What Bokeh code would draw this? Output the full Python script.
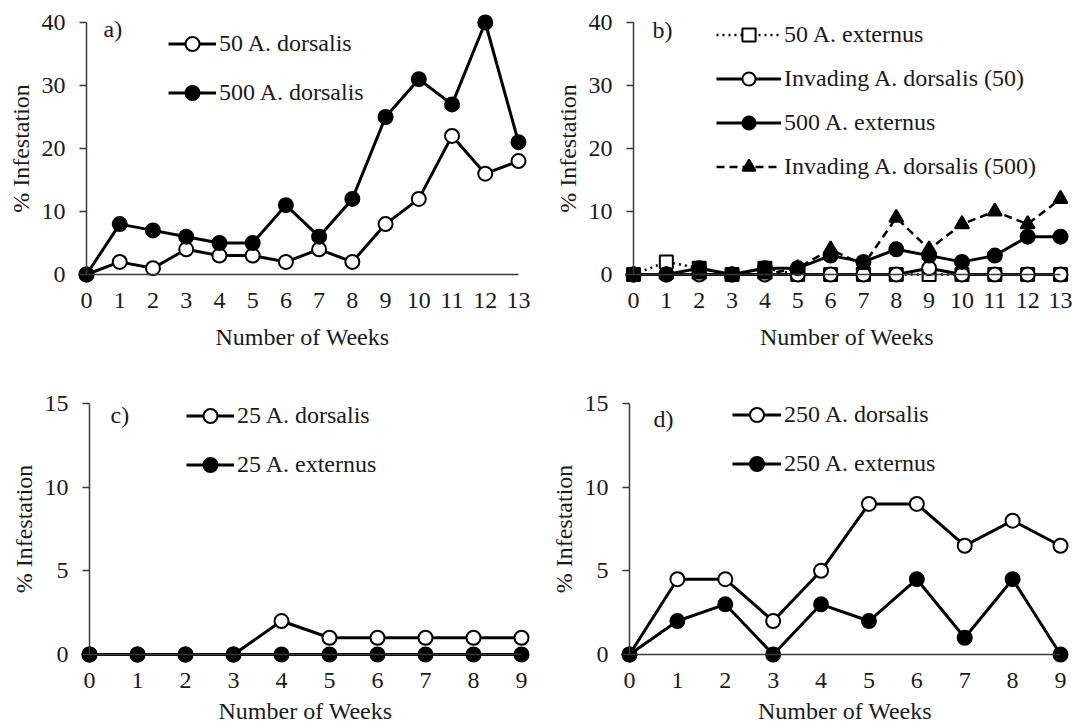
from bokeh.plotting import figure
from bokeh.layouts import column, row
from bokeh.models import (Range1d, LinearAxis, FixedTicker, Legend, LegendItem, Label)
from bokeh.embed import file_html
from bokeh.resources import INLINE

FONT = "Liberation Serif"
FS = "24px"

# ---------------- data ----------------
weeks_13 = list(range(14))
weeks_9 = list(range(10))

a_50_dorsalis = [0, 2, 1, 4, 3, 3, 2, 4, 2, 8, 12, 22, 16, 18]
a_500_dorsalis = [0, 8, 7, 6, 5, 5, 11, 6, 12, 25, 31, 27, 40, 21]

b_50_externus = [0, 2, 1, 0, 1, 0, 0, 0, 0, 0, 0, 0, 0, 0]
b_inv_dorsalis_50 = [0, 0, 0, 0, 0, 0, 0, 0, 0, 1, 0, 0, 0, 0]
b_500_externus = [0, 0, 1, 0, 1, 1, 3, 2, 4, 3, 2, 3, 6, 6]
b_inv_dorsalis_500 = [0, 0, 0, 0, 0, 1, 4, 1.5, 9, 4, 8, 10, 8, 12]

c_25_dorsalis = [0, 0, 0, 0, 2, 1, 1, 1, 1, 1]
c_25_externus = [0, 0, 0, 0, 0, 0, 0, 0, 0, 0]

d_250_dorsalis = [0, 4.5, 4.5, 2, 5, 9, 9, 6.5, 8, 6.5]
d_250_externus = [0, 2, 3, 0, 3, 2, 4.5, 1, 4.5, 0]

ticks_top_y = [0, 10, 20, 30, 40]
ticks_bot_y = [0, 5, 10, 15]

AXIS_COLOR = "#3a3a3a"
TEXT_COLOR = "#1a1a1a"


def rng(p_v0, p_v1, v0, v1, f_lo, f_hi):
    s = (p_v1 - p_v0) / (v1 - v0)
    return Range1d(v0 + (f_lo - p_v0) / s, v0 + (f_hi - p_v0) / s)


def make_panel(fig_box, xmap, ymap, xmax, ymax, yticks, xlabel_standoff):
    fx0, fy0, fx1, fy1 = fig_box
    p = figure(width=fx1 - fx0, height=fy1 - fy0,
               x_range=rng(xmap[0], xmap[1], 0, xmax, fx0, fx1),
               y_range=rng(ymap[0], ymap[1], 0, ymax, fy1, fy0),
               x_axis_location=None, y_axis_location=None,
               toolbar_location=None, output_backend="svg",
               min_border=0)
    p.outline_line_color = None
    p.xgrid.visible = False
    p.ygrid.visible = False
    p.background_fill_color = "white"
    p.border_fill_color = "white"

    xa = LinearAxis(fixed_location=0, bounds=(0, xmax),
                    ticker=FixedTicker(ticks=list(range(xmax + 1))),
                    axis_label="Number of Weeks")
    xa.major_tick_out = 0
    xa.major_tick_in = 0
    xa.major_label_standoff = 18
    xa.axis_label_standoff = xlabel_standoff
    ya = LinearAxis(fixed_location=0, bounds=(0, ymax),
                    ticker=FixedTicker(ticks=yticks),
                    axis_label="% Infestation")
    ya.major_tick_out = 7
    ya.major_tick_in = 0
    ya.major_label_standoff = 14
    ya.axis_label_standoff = 5
    for ax in (xa, ya):
        ax.minor_tick_line_color = None
        ax.axis_line_color = AXIS_COLOR
        ax.axis_line_width = 1.5
        ax.major_tick_line_color = AXIS_COLOR if ax is ya else None
        ax.major_tick_line_width = 1.5
        ax.major_label_text_font = FONT
        ax.major_label_text_font_size = FS
        ax.major_label_text_color = TEXT_COLOR
        ax.axis_label_text_font = FONT
        ax.axis_label_text_font_size = FS
        ax.axis_label_text_font_style = "normal"
        ax.axis_label_text_color = TEXT_COLOR
    p.add_layout(xa, "below")
    p.add_layout(ya, "left")
    return p


def series(p, x, y, marker="circle", filled=True, dash="solid", lw=3, size=14):
    lr = p.line(x, y, line_color="black", line_width=lw, line_dash=dash)
    sr = p.scatter(x, y, marker=marker, size=size,
                   fill_color="black" if filled else "white",
                   line_color="black", line_width=2)
    return [lr, sr]


def add_legend(p, items, fig_box, glyph_left, first_row, h, spacing, gw):
    fx0, fy0, fx1, fy1 = fig_box
    n = len(items)
    top = first_row - h / 2
    legend_h = n * h + (n - 1) * spacing
    leg = Legend(items=[LegendItem(label=lab, renderers=rs) for lab, rs in items],
                 location=(glyph_left - fx0, fy1 - (top + legend_h)),
                 orientation="vertical", border_line_color=None,
                 background_fill_alpha=0, padding=0, margin=0,
                 spacing=spacing, glyph_width=gw, glyph_height=h,
                 label_height=h, label_standoff=3,
                 label_text_font=FONT, label_text_font_size=FS,
                 label_text_color=TEXT_COLOR)
    p.add_layout(leg)


def panel_label(p, text, xmap, ymap, xmax, ymax, px, py):
    sx = (xmap[1] - xmap[0]) / xmax
    sy = (ymap[1] - ymap[0]) / ymax
    p.add_layout(Label(x=(px - xmap[0]) / sx, y=(py - ymap[0]) / sy, text=text,
                       text_font=FONT, text_font_size=FS, text_baseline="middle",
                       text_align="left", text_color=TEXT_COLOR))


# ---------------- panel a ----------------
figA = (0, 0, 538, 370)
xA, yA = (86, 518), (274, 22)
pa = make_panel(figA, xA, yA, 13, 40, ticks_top_y, 13)
ra1 = series(pa, weeks_13, a_50_dorsalis, filled=False)
ra2 = series(pa, weeks_13, a_500_dorsalis, filled=True)
add_legend(pa, [("50 A. dorsalis", ra1), ("500 A. dorsalis", ra2)], figA, 168, 43, 35, 14, 48)
panel_label(pa, "a)", xA, yA, 13, 40, 103, 28)

# ---------------- panel b ----------------
figB = (538, 0, 1076, 370)
xB, yB = (633, 1060), (274, 22)
pb = make_panel(figB, xB, yB, 13, 40, ticks_top_y, 13)
rb1 = series(pb, weeks_13, b_50_externus, marker="square", filled=False, dash="2 4", lw=2.5, size=13)
rb2 = series(pb, weeks_13, b_inv_dorsalis_50, filled=False)
rb3 = series(pb, weeks_13, b_500_externus, filled=True)
rb4 = series(pb, weeks_13, b_inv_dorsalis_500, marker="triangle", filled=True, dash="8 5", lw=2.5, size=14)
add_legend(pb, [("50 A. externus", rb1), ("Invading A. dorsalis (50)", rb2),
                ("500 A. externus", rb3), ("Invading A. dorsalis (500)", rb4)],
           figB, 716, 34, 33, 11, 65)
panel_label(pb, "b)", xB, yB, 13, 40, 652, 29)

# ---------------- panel c ----------------
figC = (0, 370, 538, 726)
xC, yC = (89, 521), (654, 403)
pc = make_panel(figC, xC, yC, 9, 15, ticks_bot_y, 7)
rc1 = series(pc, weeks_9, c_25_dorsalis, filled=False)
rc2 = series(pc, weeks_9, c_25_externus, filled=True)
add_legend(pc, [("25 A. dorsalis", rc1), ("25 A. externus", rc2)], figC, 186, 415, 35, 14, 48)
panel_label(pc, "c)", xC, yC, 9, 15, 110, 414)

# ---------------- panel d ----------------
figD = (538, 370, 1076, 726)
xD, yD = (629, 1060), (654, 403)
pd_ = make_panel(figD, xD, yD, 9, 15, ticks_bot_y, 7)
rd1 = series(pd_, weeks_9, d_250_dorsalis, filled=False)
rd2 = series(pd_, weeks_9, d_250_externus, filled=True)
add_legend(pd_, [("250 A. dorsalis", rd1), ("250 A. externus", rd2)], figD, 732, 414, 35, 14, 49)
panel_label(pd_, "d)", xD, yD, 9, 15, 653, 418)

layout = column(row(pa, pb), row(pc, pd_))
open("out.html", "w").write(file_html(layout, INLINE))
